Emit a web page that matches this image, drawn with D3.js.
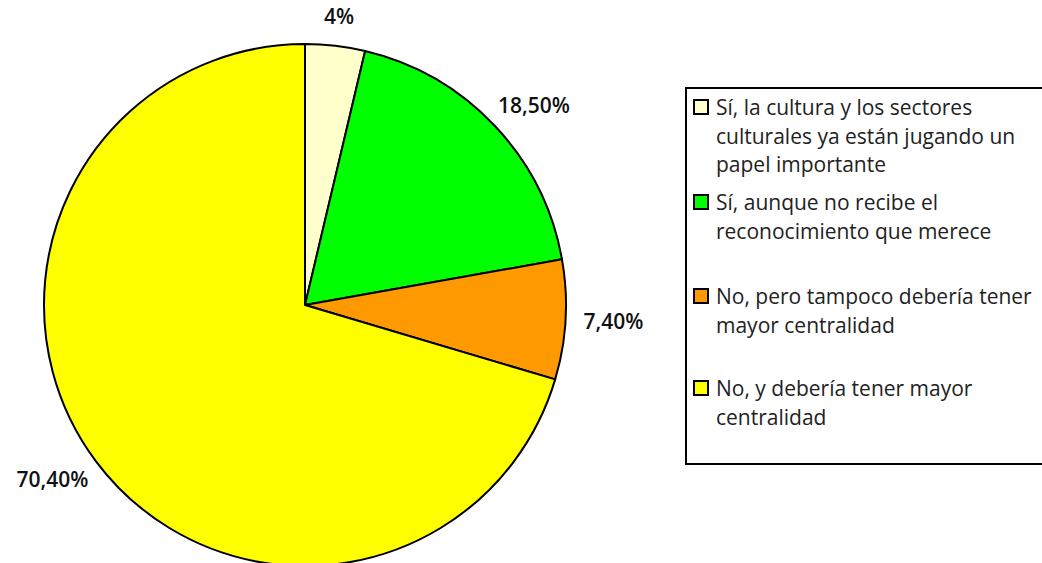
<!DOCTYPE html>
<html><head><meta charset="utf-8">
<script src="https://cdn.jsdelivr.net/npm/d3@7"></script>
<style>body{margin:0;background:#fff}svg{display:block}</style>
</head><body>
<svg id="c" width="1042" height="563"></svg>
<script>
const categories = [
  "Sí, la cultura y los sectores culturales ya están jugando un papel importante",
  "Sí, aunque no recibe el reconocimiento que merece",
  "No, pero tampoco debería tener mayor centralidad",
  "No, y debería tener mayor centralidad"
];
const legendLines = [
  ["Sí, la cultura y los sectores", "culturales ya están jugando un", "papel importante"],
  ["Sí, aunque no recibe el", "reconocimiento que merece"],
  ["No, pero tampoco debería tener", "mayor centralidad"],
  ["No, y debería tener mayor", "centralidad"]
];
const values = [3.7, 18.5, 7.4, 70.4];
const valueLabels = ["4%", "18,50%", "7,40%", "70,40%"];
const colors = ["#FFFFCC", "#00FF00", "#FF9900", "#FFFF00"];

const svg = d3.select("#c");
const cx = 305, cy = 305, r = 261;
const FONT = "Open Sans, sans-serif";

const pie = d3.pie().sort(null).value(d => d);
const arcs = pie(values);
const arc = d3.arc().innerRadius(0).outerRadius(r);
const g = svg.append("g").attr("transform", `translate(${cx},${cy})`);
g.selectAll("path").data(arcs).join("path")
  .attr("d", arc).attr("fill", (d,i) => colors[i])
  .attr("stroke", "#000").attr("stroke-width", 2).attr("stroke-linejoin", "round");

// labels
arcs.forEach((d, i) => {
  const a = (d.startAngle + d.endAngle) / 2;
  const s = Math.sin(a), c = Math.cos(a);
  const ax = (r + 10) * s, ay = -(r + 10) * c;
  const t = g.append("text").text(valueLabels[i])
    .attr("font-family", FONT).attr("font-size", 21).attr("font-weight", 600).attr("fill", "#111")
    .attr("text-anchor", "middle").attr("dominant-baseline", "central");
  const bb = t.node().getBBox();
  const w = bb.width, h = 20;
  t.attr("x", ax + s * (w / 2 + 8)).attr("y", ay - c * (h / 2 + 10));
});

// legend
const lg = svg.append("g");
lg.append("rect").attr("x", 686).attr("y", 88).attr("width", 370).attr("height", 376)
  .attr("fill", "#fff").attr("stroke", "#000").attr("stroke-width", 2);
const itemTops = [115, 210, 304, 396];
const lh = 28.5;
legendLines.forEach((lines, i) => {
  const y0 = itemTops[i];
  lg.append("rect").attr("x", 694).attr("y", y0 - 15).attr("width", 14).attr("height", 14)
    .attr("fill", colors[i]).attr("stroke", "#000").attr("stroke-width", 2);
  lines.forEach((ln, j) => {
    lg.append("text").attr("x", 716).attr("y", y0 + j * lh).text(ln)
      .attr("font-family", FONT).attr("font-size", 21).attr("fill", "#222");
  });
});
</script>
</body></html>
